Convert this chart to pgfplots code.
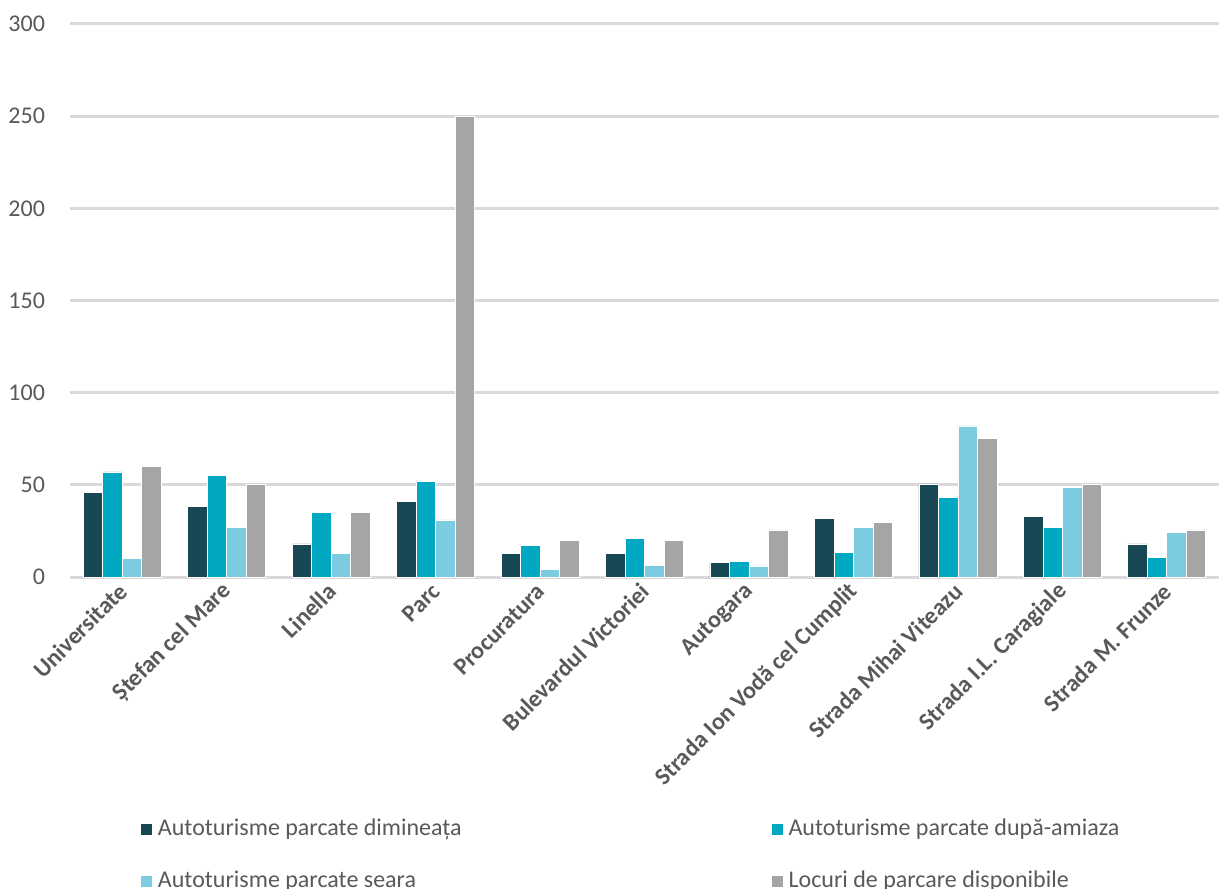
\documentclass[border=0pt]{standalone}
\usepackage{pgfplots}
\pgfplotsset{compat=1.18}
\usepackage{fontspec}
\setmainfont{Carlito}
\definecolor{cdark}{HTML}{174853}
\definecolor{cteal}{HTML}{00A9C1}
\definecolor{clight}{HTML}{7BCCE0}
\definecolor{cgray}{HTML}{A5A5A5}
\definecolor{ctext}{HTML}{595959}
\definecolor{cgrid}{HTML}{D9D9D9}
\begin{document}
\begin{tikzpicture}
\useasboundingbox (-35pt,-155.5pt) rectangle (574.5pt,288.5pt);
\begin{axis}[
  at={(0,0)}, anchor=south west,
  scale only axis, width=574.5pt, height=276.5pt,
  ybar=0pt, bar width=9.75pt,
  xmin=-0.5, xmax=10.5, ymin=0, ymax=300,
  ytick={0,50,...,300},
  xtick={0,...,10},
  xticklabels={Universitate,Ștefan cel Mare,Linella,Parc,Procuratura,Bulevardul Victoriei,Autogara,Strada Ion Vodă cel Cumplit,Strada Mihai Viteazu,Strada I.L. Caragiale,Strada M. Frunze},
  axis line style={draw=none},
  major tick length=0pt,
  ymajorgrids, grid style={cgrid, line width=1.5pt},
  axis on top=false,
  /pgf/number format/assume math mode=true,
  tick label style={font=\fontsize{12}{14}\selectfont, text=ctext},
  yticklabel style={anchor=east, xshift=-9pt},
  xticklabel style={rotate=45, anchor=east, font=\fontsize{12}{14}\selectfont\bfseries, yshift=-4pt},
  legend style={at={(0.0609,-0.434)}, anchor=north west, draw=none, fill=none,
    inner sep=0pt, font=\fontsize{12}{14}\selectfont, text=ctext,
    row sep=14pt, column sep=0pt,
    nodes={inner sep=0pt, text height=9pt, text depth=3pt},
    /tikz/every odd column/.append style={column sep=2.5pt}},
  legend columns=2, legend cell align=left,
  legend image code/.code={\fill[#1] (0pt,-3pt) rectangle (6pt,3pt);},
]
\addplot[fill=cdark, draw=white, line width=0.3pt] coordinates {(0,46) (1,38.5) (2,18) (3,41) (4,13) (5,13) (6,8) (7,32) (8,50.5) (9,33) (10,18)};
\addplot[fill=cteal, draw=white, line width=0.3pt] coordinates {(0,57) (1,55) (2,35) (3,52) (4,17) (5,21) (6,8.5) (7,13.5) (8,43) (9,27) (10,10.5)};
\addplot[fill=clight, draw=white, line width=0.3pt] coordinates {(0,10) (1,27) (2,13) (3,31) (4,4) (5,6.5) (6,6) (7,27) (8,82) (9,48.5) (10,24)};
\addplot[fill=cgray, draw=white, line width=0.3pt] coordinates {(0,60) (1,50.5) (2,35) (3,250) (4,20) (5,20) (6,25.5) (7,29.7) (8,75) (9,50.5) (10,25.5)};
\legend{\makebox[306.5pt][l]{Autoturisme parcate dimineața},Autoturisme parcate după-amiaza,\makebox[306.5pt][l]{Autoturisme parcate seara},Locuri de parcare disponibile}
\end{axis}
\end{tikzpicture}
\end{document}
